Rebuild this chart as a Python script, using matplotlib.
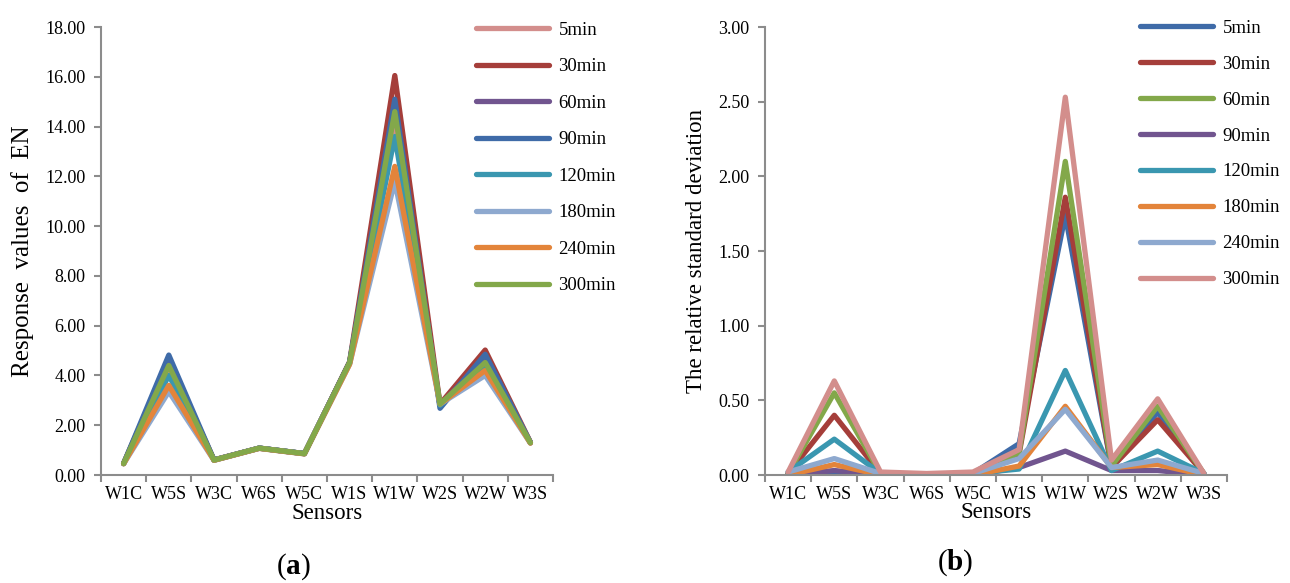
import matplotlib
matplotlib.use("Agg")
import matplotlib.pyplot as plt
from matplotlib.lines import Line2D

plt.rcParams['font.family'] = ['Liberation Serif', 'DejaVu Serif']
plt.rcParams['mathtext.fontset'] = 'custom'
plt.rcParams['mathtext.rm'] = 'Liberation Serif'
plt.rcParams['mathtext.bf'] = 'Liberation Serif:bold'

sensors = ["W1C", "W5S", "W3C", "W6S", "W5C", "W1S", "W1W", "W2S", "W2W", "W3S"]

# Panel (a): response values of EN
a_labels = ["5min", "30min", "60min", "90min", "120min", "180min", "240min", "300min"]
a_colors = ["#D38E8C", "#A53E3A", "#71558F", "#3F6BA8", "#3A97B0", "#8EA9CF", "#E3843A", "#83A84A"]
a_5 = [0.46, 4.20, 0.60, 1.08, 0.86, 4.52, 14.20, 2.80, 4.50, 1.30]
a_30 = [0.47, 4.60, 0.61, 1.08, 0.86, 4.55, 16.05, 2.85, 5.02, 1.32]
a_60 = [0.46, 4.50, 0.60, 1.08, 0.86, 4.52, 14.80, 2.80, 4.70, 1.30]
a_90 = [0.46, 4.82, 0.60, 1.08, 0.86, 4.52, 15.10, 2.68, 4.85, 1.30]
a_120 = [0.46, 4.00, 0.60, 1.08, 0.86, 4.50, 13.60, 2.80, 4.40, 1.30]
a_180 = [0.45, 3.35, 0.59, 1.07, 0.85, 4.45, 11.80, 2.85, 4.00, 1.28]
a_240 = [0.45, 3.60, 0.59, 1.07, 0.85, 4.45, 12.40, 2.85, 4.20, 1.28]
a_300 = [0.46, 4.40, 0.60, 1.08, 0.86, 4.52, 14.60, 2.85, 4.52, 1.30]
a_series = [a_5, a_30, a_60, a_90, a_120, a_180, a_240, a_300]

# Panel (b): relative standard deviation
b_labels = ["5min", "30min", "60min", "90min", "120min", "180min", "240min", "300min"]
b_colors = ["#3F6BA8", "#A53E3A", "#83A84A", "#71558F", "#3A97B0", "#E3843A", "#8EA9CF", "#D38E8C"]
b_5 = [0.01, 0.02, 0.01, 0.00, 0.01, 0.21, 1.74, 0.05, 0.42, 0.01]
b_30 = [0.01, 0.40, 0.01, 0.00, 0.01, 0.14, 1.86, 0.05, 0.37, 0.01]
b_60 = [0.01, 0.55, 0.01, 0.00, 0.01, 0.15, 2.10, 0.06, 0.46, 0.01]
b_90 = [0.00, 0.03, 0.00, 0.00, 0.00, 0.05, 0.16, 0.03, 0.03, 0.00]
b_120 = [0.02, 0.24, 0.01, 0.00, 0.01, 0.04, 0.70, 0.03, 0.16, 0.01]
b_180 = [0.00, 0.07, 0.00, 0.00, 0.00, 0.06, 0.46, 0.05, 0.07, 0.00]
b_240 = [0.02, 0.11, 0.01, 0.00, 0.01, 0.11, 0.44, 0.05, 0.10, 0.01]
b_300 = [0.02, 0.63, 0.02, 0.01, 0.02, 0.17, 2.53, 0.10, 0.51, 0.01]
b_series = [b_5, b_30, b_60, b_90, b_120, b_180, b_240, b_300]

W, H = 1290, 583
fig = plt.figure(figsize=(W / 100, H / 100), dpi=100)

gray = "#8C8C8C"
TICK_FS = 13


def style_axes(ax, ymax, step):
    ax.set_xlim(-0.5, len(sensors) - 0.5)
    ax.set_ylim(0, ymax)
    n = int(round(ymax / step))
    ticks = [i * step for i in range(n + 1)]
    ax.set_yticks(ticks)
    ax.set_yticklabels([f"{t:.2f}" for t in ticks], fontsize=TICK_FS)
    ax.set_xticks(range(len(sensors)))
    ax.set_xticklabels(sensors, fontsize=TICK_FS)
    ax.set_xticks([i - 0.5 for i in range(len(sensors) + 1)], minor=True)
    ax.tick_params(axis='x', which='major', length=0, pad=8)
    ax.tick_params(axis='x', which='minor', length=5, color=gray, width=1.5)
    ax.tick_params(axis='y', length=5, color=gray, width=1.5, pad=6)
    for s in ["top", "right"]:
        ax.spines[s].set_visible(False)
    for s in ["left", "bottom"]:
        ax.spines[s].set_color(gray)
        ax.spines[s].set_linewidth(1.5)


def px_rect(x0, x1, ytop, ybot):
    return [x0 / W, 1 - ybot / H, (x1 - x0) / W, (ybot - ytop) / H]


LW = 3.8

# Left panel
axa = fig.add_axes(px_rect(101, 553, 27, 475))
x = list(range(len(sensors)))
for vals, c, lab in zip(a_series, a_colors, a_labels):
    axa.plot(x, vals, color=c, lw=LW, label=lab, solid_joinstyle='round', solid_capstyle='round')
style_axes(axa, 18, 2)
axa.set_ylabel("Response  values  of  EN", fontsize=18, labelpad=8)
axa.set_xlabel("Sensors", fontsize=16.5, labelpad=0)
handles = [Line2D([0], [0], color=c, lw=LW, solid_capstyle='round') for c in a_colors]
fig.legend(handles, a_labels, loc='upper left', bbox_to_anchor=(459 / W, 1 - 5 / H),
           frameon=False, fontsize=13.5, handlelength=3.9, handletextpad=0.5, labelspacing=1.03)
fig.text(293 / W, 1 - 567 / H, r"($\mathbf{a}$)", fontsize=21, ha='center', va='center')

# Right panel
axb = fig.add_axes(px_rect(765, 1227, 27, 475))
for vals, c, lab in zip(b_series, b_colors, b_labels):
    axb.plot(x, vals, color=c, lw=LW, label=lab, solid_joinstyle='round', solid_capstyle='round')
style_axes(axb, 3.0, 0.5)
axb.set_ylabel("The relative standard deviation", fontsize=16.5, labelpad=8)
axb.set_xlabel("Sensors", fontsize=16.5, labelpad=-1)
handles = [Line2D([0], [0], color=c, lw=LW, solid_capstyle='round') for c in b_colors]
fig.legend(handles, b_labels, loc='upper left', bbox_to_anchor=(1123 / W, 1 - 3 / H),
           frameon=False, fontsize=13.5, handlelength=3.9, handletextpad=0.5, labelspacing=1.0)
fig.text(955 / W, 1 - 563 / H, r"($\mathbf{b}$)", fontsize=21, ha='center', va='center')

fig.savefig("out.png", dpi=100)
